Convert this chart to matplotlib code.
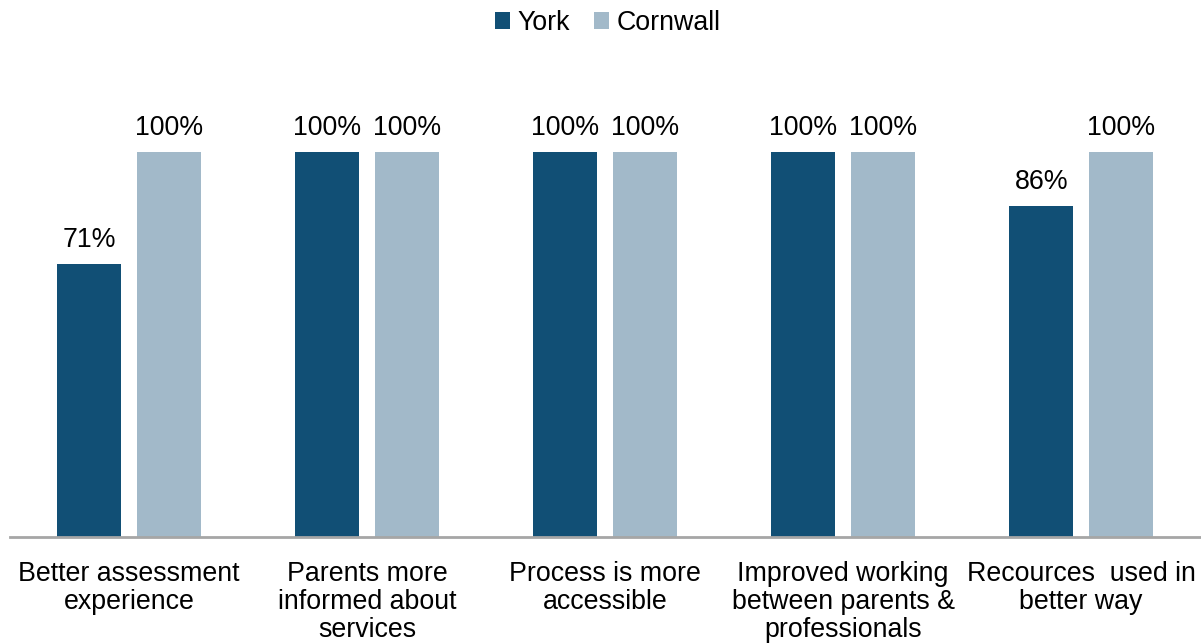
import numpy as np
import matplotlib.pyplot as plt

plt.rcParams['font.family'] = ['Liberation Sans', 'DejaVu Sans']

# Datos
categorias = [
    "Better assessment\nexperience",
    "Parents more\ninformed about\nservices",
    "Process is more\naccessible",
    "Improved working\nbetween parents &\nprofessionals",
    "Recources  used in\nbetter way",
]
york = [71, 100, 100, 100, 86]
cornwall = [100, 100, 100, 100, 100]
series = ["York", "Cornwall"]

color_york = '#114F75'
color_cornwall = '#A2B9C9'
fs = 19.3

fig = plt.figure(figsize=(12.01, 6.43), dpi=100)
ax = fig.add_axes([10 / 1201, (643 - 537) / 643, 1190 / 1201, (537 - 60) / 643])

x = np.arange(len(categorias))
ancho = 0.269
desp = 0.167

b1 = ax.bar(x - desp, york, width=ancho, color=color_york, label=series[0])
b2 = ax.bar(x + desp, cornwall, width=ancho, color=color_cornwall, label=series[1])

# Etiquetas de valores
for barras in (b1, b2):
    for b in barras:
        ax.annotate(f"{b.get_height():.0f}%",
                    (b.get_x() + b.get_width() / 2, b.get_height()),
                    xytext=(0, 8), textcoords='offset points',
                    ha='center', va='bottom', fontsize=fs, color='black')

ax.set_xlim(-0.5, len(categorias) - 0.5)
ax.set_ylim(0, 100 * 477 / 385)

ax.set_xticks(x)
ax.set_xticklabels(categorias, fontsize=fs, linespacing=1.12)
ax.tick_params(axis='x', length=0, pad=17)
ax.set_yticks([])

for lado in ['top', 'right', 'left']:
    ax.spines[lado].set_visible(False)
ax.spines['bottom'].set_color('#A6A6A6')
ax.spines['bottom'].set_linewidth(2)

fig.legend(loc='center', bbox_to_anchor=(608 / 1201, 1 - 23 / 643), ncol=2,
           frameon=False, fontsize=fs, handlelength=0.55, handleheight=0.55,
           handletextpad=0.3, columnspacing=0.9)

plt.savefig('out.png', dpi=100)
